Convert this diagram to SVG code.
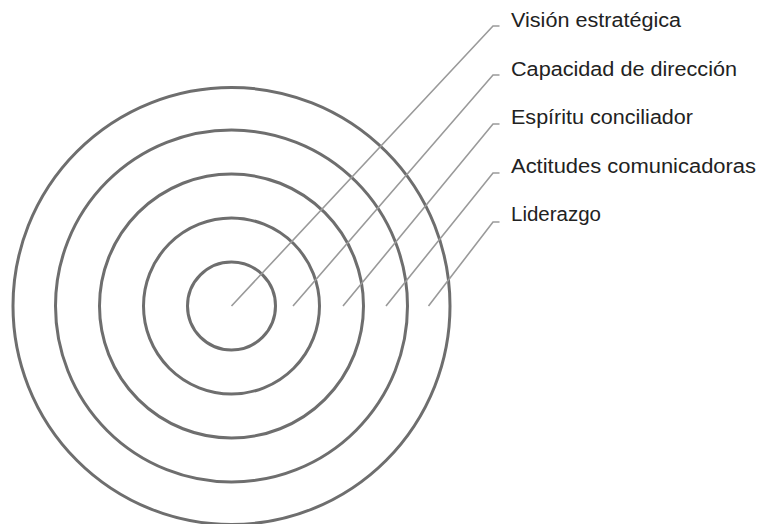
<svg xmlns="http://www.w3.org/2000/svg" width="767" height="524" viewBox="0 0 767 524">
  <style>
    .ring { fill: none; stroke: #6e6e6e; stroke-width: 3; }
    .leader { fill: none; stroke: #9a9a9a; stroke-width: 1.6; stroke-linejoin: miter; }
    .label { font-family: "Liberation Sans", Arial, sans-serif; font-size: 20px; fill: #222222; }
  </style>
  <rect width="767" height="524" fill="#ffffff"/>

  <!-- concentric target rings -->
  <g id="rings">
    <circle id="ring-1" class="ring" cx="231.5" cy="306" r="44"/>
    <circle id="ring-2" class="ring" cx="231.5" cy="306" r="88"/>
    <circle id="ring-3" class="ring" cx="231.5" cy="306" r="132"/>
    <circle id="ring-4" class="ring" cx="231.5" cy="306" r="176"/>
    <circle id="ring-5" class="ring" cx="231.5" cy="306" r="218.5"/>
  </g>

  <!-- leader lines from each ring to its label -->
  <g id="connectors">
    <polyline class="leader" points="231.5,306 493,26 499.5,26"/>
    <polyline class="leader" points="293,306 493,75 499.5,75"/>
    <polyline class="leader" points="343,306 493,124 499.5,124"/>
    <polyline class="leader" points="386,306 493,173 499.5,173"/>
    <polyline class="leader" points="428.5,306 493,222 499.5,222"/>
  </g>

  <g id="label-vision"><text class="label" x="511" y="27" textLength="170" lengthAdjust="spacingAndGlyphs">Visión estratégica</text></g>
  <g id="label-capacidad"><text class="label" x="511" y="75.5" textLength="226" lengthAdjust="spacingAndGlyphs">Capacidad de dirección</text></g>
  <g id="label-espiritu"><text class="label" x="511" y="124" textLength="182" lengthAdjust="spacingAndGlyphs">Espíritu conciliador</text></g>
  <g id="label-actitudes"><text class="label" x="511" y="172.5" textLength="245" lengthAdjust="spacingAndGlyphs">Actitudes comunicadoras</text></g>
  <g id="label-liderazgo"><text class="label" x="511" y="221" textLength="90" lengthAdjust="spacingAndGlyphs">Liderazgo</text></g>
</svg>
